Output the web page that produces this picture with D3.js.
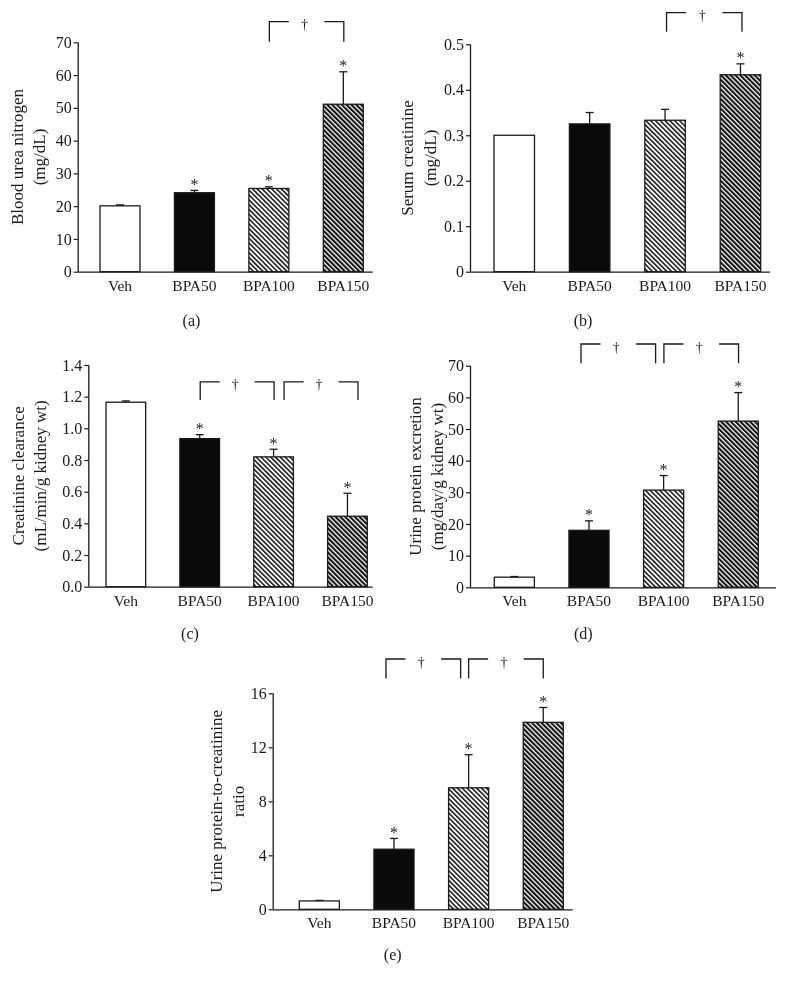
<!DOCTYPE html>
<html>
<head>
<meta charset="utf-8">
<script src="https://cdn.jsdelivr.net/npm/d3@7"></script>
<style>
  html, body { margin: 0; padding: 0; background: #fff; }
  svg { display: block; will-change: transform; }
  text { font-family: "Liberation Serif", "DejaVu Serif", serif; fill: #1a1a1a; }
</style>
</head>
<body>
<svg id="chart" width="789" height="988"></svg>
<script>
// ---------- data ----------
const groups = ["Veh", "BPA50", "BPA100", "BPA150"];

const bunMean = [20.1, 24.1, 25.4, 51.1];
const bunErr  = [0.3, 0.7, 0.5, 9.9];
const bunSig  = [false, true, true, true];
const bunTicks = [0, 10, 20, 30, 40, 50, 60, 70];

const scrMean = [0.300, 0.325, 0.333, 0.433];
const scrErr  = [0.000, 0.025, 0.024, 0.024];
const scrSig  = [false, false, false, true];
const scrTicks = [0, 0.1, 0.2, 0.3, 0.4, 0.5];

const ccrMean = [1.165, 0.935, 0.820, 0.445];
const ccrErr  = [0.008, 0.025, 0.048, 0.145];
const ccrSig  = [false, true, true, true];
const ccrTicks = [0, 0.2, 0.4, 0.6, 0.8, 1.0, 1.2, 1.4];

const upeMean = [3.2, 18.0, 30.7, 52.5];
const upeErr  = [0.2, 3.0, 4.6, 9.0];
const upeSig  = [false, true, true, true];
const upeTicks = [0, 10, 20, 30, 40, 50, 60, 70];

const upcrMean = [0.62, 4.45, 9.0, 13.85];
const upcrErr  = [0.04, 0.8, 2.45, 1.1];
const upcrSig  = [false, true, true, true];
const upcrTicks = [0, 4, 8, 12, 16];

// ---------- layout ----------
const panels = [
  { id: "(a)", mean: bunMean, err: bunErr, sig: bunSig, ticks: bunTicks, yMax: 70,
    fmt: d => String(d), label: ["Blood urea nitrogen", "(mg/dL)"],
    axisX: 77.7, yTop: 42.3, yBot: 271.7, barL: 100, barR: 363.3, axisEnd: 372.7,
    labOff: [-60, -38], capX: 191.5, capY: 326,
    brackets: [{ from: 2, to: 3, off: 0.5, top: 76.3, bot: 70.2 }] },
  { id: "(b)", mean: scrMean, err: scrErr, sig: scrSig, ticks: scrTicks, yMax: 0.5,
    fmt: d => d === 0 ? "0" : d.toFixed(1), label: ["Serum creatinine", "(mg/dL)"],
    axisX: 470, yTop: 44.3, yBot: 271.7, barL: 494, barR: 760.7, axisEnd: 770,
    labOff: [-63, -40], capX: 583, capY: 326,
    brackets: [{ from: 2, to: 3, off: 1.5, top: 0.5695, bot: 0.5277 }] },
  { id: "(c)", mean: ccrMean, err: ccrErr, sig: ccrSig, ticks: ccrTicks, yMax: 1.4,
    fmt: d => d.toFixed(1), label: ["Creatinine clearance", "(mL/min/g kidney wt)"],
    axisX: 88.3, yTop: 365, yBot: 586.7, barL: 106, barR: 367.3, axisEnd: 372.7,
    labOff: [-70, -48], capX: 190, capY: 638.5,
    brackets: [{ from: 1, to: 2, off: 0.5, top: 1.294, bot: 1.179 },
               { from: 2, to: 3, off: 10.5, top: 1.294, bot: 1.179 }] },
  { id: "(d)", mean: upeMean, err: upeErr, sig: upeSig, ticks: upeTicks, yMax: 70,
    fmt: d => String(d), label: ["Urine protein excretion", "(mg/day/g kidney wt)"],
    axisX: 470, yTop: 365.7, yBot: 587.3, barL: 494.3, barR: 758.3, axisEnd: 776,
    labOff: [-55, -33], capX: 583.3, capY: 638.5,
    brackets: [{ from: 1, to: 2, off: -8, top: 76.85, bot: 70.75 },
               { from: 2, to: 3, off: 0.3, top: 76.85, bot: 70.75 }] },
  { id: "(e)", mean: upcrMean, err: upcrErr, sig: upcrSig, ticks: upcrTicks, yMax: 16,
    fmt: d => String(d), label: ["Urine protein-to-creatinine", "ratio"],
    axisX: 272.7, yTop: 693.3, yBot: 909.3, barL: 299.3, barR: 563.3, axisEnd: 572.7,
    labOff: [-56, -34], capX: 392.7, capY: 960,
    brackets: [{ from: 1, to: 2, off: -8, top: 18.54, bot: 17.1 },
               { from: 2, to: 3, off: 0, top: 18.54, bot: 17.1 }] }
];

const fills = ["#ffffff", "#0a0a0a", "url(#hatchThin)", "url(#hatchThick)"];
const ink = "#1a1a1a";
const serif = '"Liberation Serif", "DejaVu Serif", serif';

const svg = d3.select("#chart");
const defs = svg.append("defs");

function hatch(id, period, black) {
  const p = defs.append("pattern")
    .attr("id", id)
    .attr("patternUnits", "userSpaceOnUse")
    .attr("width", period).attr("height", 10)
    .attr("patternTransform", "rotate(-45)");
  p.append("rect").attr("width", period).attr("height", 10).attr("fill", "#fff");
  p.append("rect").attr("width", black).attr("height", 10).attr("fill", "#111");
}
hatch("hatchThin", 3.4, 1.5);
hatch("hatchThick", 3.4, 2.1);

panels.forEach(P => {
  const g = svg.append("g");
  const x = d3.scaleBand().domain(groups).range([P.barL, P.barR]).paddingInner(0.463).paddingOuter(0);
  const y = d3.scaleLinear().domain([0, P.yMax]).range([P.yBot, P.yTop]);
  const bw = x.bandwidth();
  const cx = i => x(groups[i]) + bw / 2;

  // y axis
  const ya = g.append("g").attr("transform", `translate(${P.axisX},0)`)
    .call(d3.axisLeft(y).tickValues(P.ticks).tickFormat(P.fmt).tickSize(4).tickPadding(2));
  ya.select(".domain").attr("stroke", ink).attr("stroke-width", 1.3)
    .attr("d", `M0.5,${P.yTop}V${P.yBot}`);
  ya.selectAll(".tick line").attr("stroke", ink).attr("stroke-width", 1.2);
  ya.selectAll(".tick text").attr("font-size", 16).attr("fill", ink)
    .style("font-family", serif);

  // x axis
  const xa = g.append("g").attr("transform", `translate(0,${P.yBot})`)
    .call(d3.axisBottom(x).tickSize(0).tickPadding(8));
  xa.select(".domain").attr("stroke", ink).attr("stroke-width", 1.3)
    .attr("d", `M${P.axisX},0.5H${P.axisEnd}`);
  xa.selectAll(".tick text").attr("font-size", 15.5).attr("fill", ink)
    .style("font-family", serif);

  // bars
  g.selectAll("rect.bar").data(P.mean).join("rect").attr("class", "bar")
    .attr("x", (d, i) => x(groups[i]))
    .attr("y", d => y(d))
    .attr("width", bw)
    .attr("height", d => y(0) - y(d))
    .attr("fill", (d, i) => fills[i])
    .attr("stroke", ink).attr("stroke-width", 1.3);

  // error bars (upper only)
  P.mean.forEach((m, i) => {
    if (P.err[i] <= 0) return;
    const top = y(m + P.err[i]);
    g.append("line").attr("x1", cx(i)).attr("x2", cx(i))
      .attr("y1", y(m)).attr("y2", top).attr("stroke", ink).attr("stroke-width", 1.3);
    g.append("line").attr("x1", cx(i) - 4).attr("x2", cx(i) + 4)
      .attr("y1", top).attr("y2", top).attr("stroke", ink).attr("stroke-width", 1.3);
  });

  // significance asterisks
  P.mean.forEach((m, i) => {
    if (!P.sig[i]) return;
    g.append("text").attr("x", cx(i)).attr("y", y(m + P.err[i]) - 0.5)
      .attr("text-anchor", "middle").attr("font-size", 16).attr("fill", "#111")
      .text("*");
  });

  // brackets
  P.brackets.forEach(b => {
    const xl = cx(b.from) + b.off, xr = cx(b.to) + b.off;
    const yt = y(b.top), yb = y(b.bot);
    const seg = 19.5;
    g.append("path")
      .attr("d", `M${xl},${yb}V${yt}H${xl + seg}M${xr - seg},${yt}H${xr}V${yb}`)
      .attr("fill", "none").attr("stroke", ink).attr("stroke-width", 1.3);
    g.append("text").attr("x", (xl + xr) / 2 - 2).attr("y", yt + 7.5)
      .attr("text-anchor", "middle").attr("font-size", 14).attr("fill", "#111")
      .text("\u2020");
  });

  // y label
  const midY = (P.yTop + P.yBot) / 2;
  P.label.forEach((t, k) => {
    g.append("text")
      .attr("transform", `translate(${P.axisX + P.labOff[k]},${midY}) rotate(-90)`)
      .attr("text-anchor", "middle").attr("dominant-baseline", "central")
      .attr("font-size", 17).attr("fill", ink).text(t);
  });

  // panel caption
  g.append("text").attr("x", P.capX).attr("y", P.capY)
    .attr("text-anchor", "middle").attr("font-size", 16).attr("fill", ink).text(P.id);
});
</script>
</body>
</html>
